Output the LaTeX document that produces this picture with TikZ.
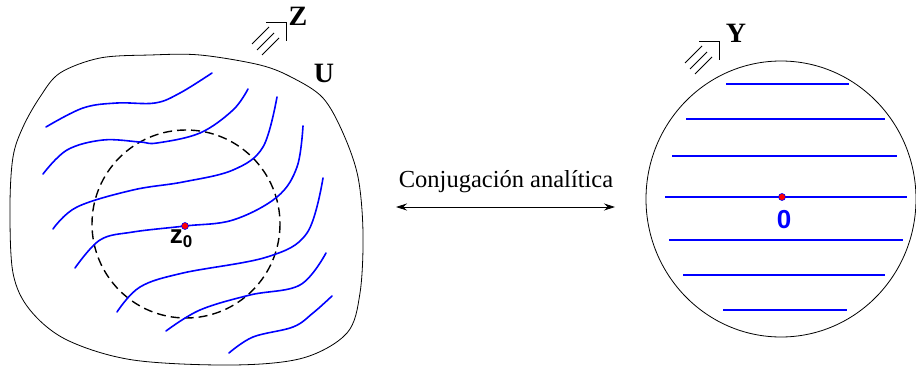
\documentclass[tikz,border=0pt]{standalone}
\usepackage{fontspec}
\setmainfont{Liberation Serif}
\newfontfamily\lserif{Liberation Serif}
\newfontfamily\lsans{Liberation Sans}
\usetikzlibrary{arrows.meta,calc}
\tikzset{
  leaf/.style={blue, line width=1.6pt, line cap=round},
  region/.style={black, line width=0.8pt},
  disc/.style={black, line width=1.4pt, dash pattern=on 9pt off 5pt},
  dotmark/.style={circle, fill=red, draw=blue, line width=0.6pt, inner sep=0pt, minimum size=7pt},
  biglabel/.style={font=\lserif\bfseries\fontsize{28}{30}\selectfont, inner sep=0pt},
  tarrow/.style={black, line width=0.8pt},
}
\newcommand{\triplearrow}[1]{%
  \draw[tarrow] ($(#1)+(-20,0)$) -- (#1) -- ($(#1)+(0,19)$);
  \draw[tarrow] ($(#1)+(-34,22)$) -- ($(#1)+(-17,5)$);
  \draw[tarrow] ($(#1)+(-29,28)$) -- ($(#1)+(-12,11)$);
  \draw[tarrow] ($(#1)+(-24,33)$) -- ($(#1)+(-7,16)$);
}
\begin{document}
\begin{tikzpicture}[x=1pt,y=-1pt]
\useasboundingbox (0,0) rectangle (916,369);
% region U
\draw[region] plot[smooth cycle, tension=0.55] coordinates {
 (150,55) (200,55) (260,65) (293,78) (323,98) (343,133) (358,177) (363,233)
 (360,293) (347,333) (303,358) (233,365) (133,360) (67,340) (30,310) (13,273)
 (10,207) (13,157) (23,127) (40,97) (60,73) (100,58)};
% dashed disc
\draw[disc] (186,224) circle[radius=94];
% foliation
\draw[leaf] plot[smooth, tension=0.6] coordinates {(46,127) (83,108) (117,103) (155,103) (180,93) (212,73)};
\draw[leaf] plot[smooth, tension=0.6] coordinates {(43,174) (67,150) (103,140) (140,142) (157,143) (200,133) (233,110) (248,89)};
\draw[leaf] plot[smooth, tension=0.6] coordinates {(53,229) (77,207) (133,190) (183,182) (233,170) (263,147) (277,97)};
\draw[leaf] plot[smooth, tension=0.6] coordinates {(75,268) (100,240) (133,232) (185,226) (233,220) (277,197) (297,167) (303,126)};
\draw[leaf] plot[smooth, tension=0.6] coordinates {(117,312) (140,287) (183,273) (267,257) (307,233) (323,178)};
\draw[leaf] plot[smooth, tension=0.6] coordinates {(166,331) (200,310) (250,295) (300,285) (326,253)};
\draw[leaf] plot[smooth, tension=0.6] coordinates {(229,353) (253,337) (293,327) (313,313) (332,296)};
\node[dotmark] (z0) at (185,226) {};
\node[anchor=north, inner sep=0pt, font=\lsans\bfseries\fontsize{26}{27}\selectfont] (z0lab) at (181,230) {z\raisebox{-4pt}{\fontsize{17}{18}\selectfont 0}};
% labels
\node[biglabel] (U) at (324,73) {U};
\node[biglabel] (Z) at (298,16) {Z};
\coordinate (zc) at (286,22);
\triplearrow{zc}
% right disc
\draw[region] (781,199) ellipse[x radius=135, y radius=138];
\foreach \y/\a/\b in {84/726/849, 119/686/885, 156/672/897, 197/665/907, 240/669/903, 275/683/885, 310/723/847}{
  \draw[leaf, line cap=butt] (\a,\y) -- (\b,\y);
}
\node[dotmark] (o) at (782,197) {};
\node[inner sep=0pt, blue, font=\lsans\bfseries\fontsize{26}{27}\selectfont] (olab) at (784,220) {0};
\node[biglabel] (Y) at (736,33) {Y};
\coordinate (yc) at (719,41);
\triplearrow{yc}
% conjugation arrow
\node[inner sep=0pt, font=\lserif\fontsize{24.5}{26}\selectfont] (title) at (506,182) {Conjugación analítica};
\coordinate (la) at (396,207);
\coordinate (ra) at (615,207);
\draw[line width=0.8pt, {Stealth[length=11pt,width=7pt]}-{Stealth[length=11pt,width=7pt]}] (la) -- (ra);
\end{tikzpicture}
\end{document}
